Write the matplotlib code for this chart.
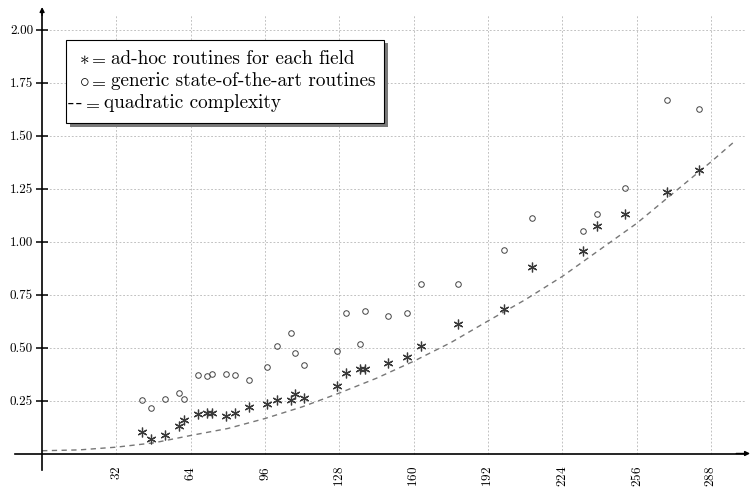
import matplotlib
matplotlib.use('Agg')
import matplotlib.pyplot as plt
from matplotlib.patches import Rectangle
from matplotlib.ticker import FixedLocator, FormatStrFormatter

plt.rcParams['font.family'] = 'cmr10'
plt.rcParams['mathtext.fontset'] = 'cm'
plt.rcParams['axes.formatter.use_mathtext'] = True

# field sizes (primes) and timings
field_size = [43, 47, 53, 59, 61, 67, 71, 73, 79, 83, 89, 97, 101, 107, 109, 113,
              127, 131, 137, 139, 149, 157, 163, 179, 199, 211, 233, 239, 251, 269, 283]
adhoc = [0.103, 0.070, 0.086, 0.128, 0.157, 0.185, 0.189, 0.193, 0.177, 0.193, 0.218,
         0.234, 0.252, 0.252, 0.282, 0.263, 0.317, 0.378, 0.399, 0.399, 0.425, 0.457,
         0.506, 0.609, 0.683, 0.880, 0.955, 1.075, 1.130, 1.233, 1.337]
generic = [0.254, 0.213, 0.256, 0.284, 0.255, 0.369, 0.364, 0.377, 0.374, 0.369, 0.345,
           0.407, 0.506, 0.567, 0.473, 0.416, 0.485, 0.661, 0.515, 0.671, 0.649, 0.661,
           0.798, 0.798, 0.958, 1.109, 1.048, 1.128, 1.251, 1.666, 1.624]

quad_x = [0, 16, 32, 48, 64, 80, 96, 112, 128, 144, 160, 176, 192, 208, 224, 240, 256, 272, 288, 298]
quad_y = [0.013, 0.017, 0.030, 0.050, 0.085, 0.118, 0.165, 0.220, 0.285, 0.355, 0.435,
          0.523, 0.625, 0.725, 0.835, 0.960, 1.085, 1.230, 1.375, 1.470]

xticks = [32, 64, 96, 128, 160, 192, 224, 256, 288]
yticks = [0.25, 0.50, 0.75, 1.00, 1.25, 1.50, 1.75, 2.00]

W, H = 752, 487
fig = plt.figure(figsize=(W / 100, H / 100), dpi=100)
ax = fig.add_axes([0, 0, 1, 1])
ax.patch.set_visible(False)

# pixel -> data mapping (x=0 at px 42.1, 2.322 px/unit; y=0 at px 453.5, 212 px/unit)
ax.set_xlim(-42.1 / 2.322, (W - 42.1) / 2.322)
ax.set_ylim((453.5 - H) / 212, 453.5 / 212)

xa0, xa1 = -11.7, 304.9
ya0, ya1 = -0.078, 2.106

grid_kw = dict(colors='#b8b8b8', linestyles=(0, (2.2, 2.2)), lw=0.6, zorder=0)
ax.vlines(xticks, 0, 2.07, **grid_kw)
ax.hlines(yticks, 0, 303, **grid_kw)

for name in ['top', 'right']:
    ax.spines[name].set_visible(False)
ax.spines['left'].set_position(('data', 0))
ax.spines['bottom'].set_position(('data', 0))
ax.spines['left'].set_bounds(ya0, ya1 - 0.02)
ax.spines['bottom'].set_bounds(xa0, xa1 - 2)
for name in ['left', 'bottom']:
    ax.spines[name].set_linewidth(1.2)
ax.annotate('', xy=(xa1, 0), xytext=(xa1 - 6, 0),
            arrowprops=dict(arrowstyle='-|>', color='black', lw=1.0, mutation_scale=7,
                            shrinkA=0, shrinkB=0))
ax.annotate('', xy=(0, ya1), xytext=(0, ya1 - 0.04),
            arrowprops=dict(arrowstyle='-|>', color='black', lw=1.0, mutation_scale=7,
                            shrinkA=0, shrinkB=0))

ax.xaxis.set_major_locator(FixedLocator(xticks))
ax.yaxis.set_major_locator(FixedLocator(yticks))
ax.yaxis.set_major_formatter(FormatStrFormatter('%.2f'))
ax.tick_params(axis='y', direction='inout', length=9, width=1.1, pad=2, labelsize=9.5)
ax.tick_params(axis='x', length=0, pad=9, labelsize=9.5, labelrotation=90)

ax.plot(quad_x, quad_y, color='#777777', ls=(0, (3.8, 3.2)), lw=1.0, zorder=2)
ax.plot(field_size, generic, ls='none', marker='o', ms=4, mfc='none', mec='#444444',
        mew=0.7, zorder=3)
ax.plot(field_size, adhoc, ls='none', marker=(6, 2, 0), ms=7, mew=0.9,
        color='#3a3a3a', zorder=3)

# legend box with shadow
def fx(px):
    return px / W

def fy(py):
    return 1 - py / H

bx0, by0, bx1, by1 = 65.5, 40, 384, 123
fig.patches.append(Rectangle((fx(bx0 + 4), fy(by1 + 3.5)), fx(bx1 - bx0), (by1 - by0) / H,
                             transform=fig.transFigure, facecolor='#7a7a7a',
                             edgecolor='none', zorder=5))
fig.patches.append(Rectangle((fx(bx0), fy(by1)), fx(bx1 - bx0), (by1 - by0) / H,
                             transform=fig.transFigure, facecolor='white',
                             edgecolor='black', lw=0.8, zorder=6))

legend_rows = [(r'$\ast$', 'ad-hoc routines for each field'),
               (r'$\circ$', 'generic state-of-the-art routines'),
               ('-', 'quadratic complexity')]
row_base = [63.5, 86.5, 108]
sym_x = [[84], [84], [70.5, 78.5]]
eq_x = [97.5, 97.5, 91]
desc_x = [111, 111, 104]
fs = 13.8
for i, (sym, desc) in enumerate(legend_rows):
    yb = fy(row_base[i])
    for sx in sym_x[i]:
        fig.text(fx(sx), yb, sym, ha='center', va='baseline', fontsize=fs, zorder=7)
    fig.text(fx(eq_x[i]), yb, r'$=$', ha='center', va='baseline', fontsize=13, zorder=7)
    fig.text(fx(desc_x[i]), yb, desc, ha='left', va='baseline', fontsize=fs, zorder=7)

fig.savefig('out.png', dpi=100)
